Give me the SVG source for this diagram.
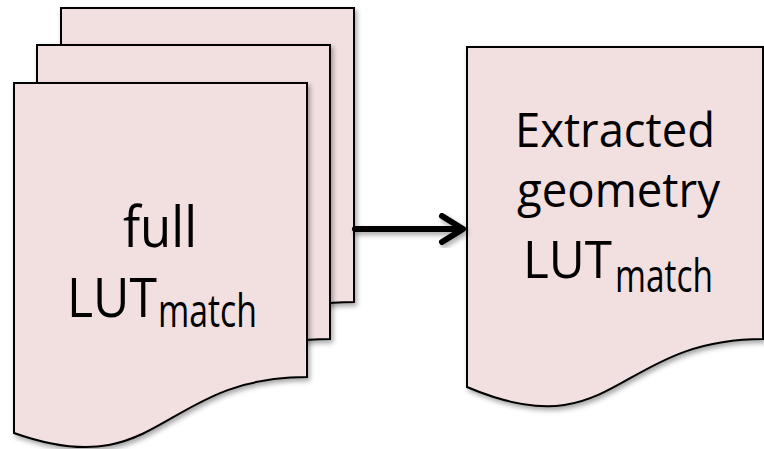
<svg xmlns="http://www.w3.org/2000/svg" xmlns:xlink="http://www.w3.org/1999/xlink" width="764" height="449" viewBox="0 0 764 449">
  <style>
    .doc { fill: #F2DFDF; stroke: #000; stroke-width: 2; stroke-linejoin: miter; filter: url(#shadow); }
    .lbl { font-family: "Open Sans", Lato, "Liberation Sans", sans-serif; fill: #000; }
    .conn { fill: none; stroke: #000; stroke-width: 6; stroke-linecap: round; stroke-linejoin: round; filter: url(#shadow); }
  </style>
  <defs>
    <filter id="shadow" x="-10%" y="-10%" width="130%" height="130%">
      <feDropShadow dx="2" dy="3" stdDeviation="2.5" flood-color="#000" flood-opacity="0.35"/>
    </filter>
    <!-- flowchart "document" shape with a wavy bottom edge -->
    <path id="docShape" d="M0,0 H293 V294 C146.5,294 146.5,402 0,350 Z"/>
  </defs>

  <!-- stack of full LUT pages -->
  <g id="page-back">
    <use xlink:href="#docShape" class="doc" transform="translate(61,8)"/>
  </g>
  <g id="page-middle">
    <use xlink:href="#docShape" class="doc" transform="translate(37,45)"/>
  </g>
  <g id="full-lut">
    <use xlink:href="#docShape" class="doc" transform="translate(14,83)"/>
    <text class="lbl" x="123" y="247" font-size="56" textLength="74" lengthAdjust="spacingAndGlyphs">full</text>
    <text class="lbl" x="67" y="317" font-size="54" textLength="90" lengthAdjust="spacingAndGlyphs">LUT</text>
    <text class="lbl" x="158" y="327" font-size="46" textLength="99" lengthAdjust="spacingAndGlyphs">match</text>
  </g>

  <!-- extracted geometry page -->
  <g id="extracted-lut">
    <path class="doc" d="M467,47 H763 V339 C615,339 615,450 467,387 Z"/>
    <text class="lbl" x="515" y="147" font-size="48" textLength="200" lengthAdjust="spacingAndGlyphs">Extracted</text>
    <text class="lbl" x="517" y="207" font-size="48" textLength="203" lengthAdjust="spacingAndGlyphs">geometry</text>
    <text class="lbl" x="523" y="278" font-size="51" textLength="89" lengthAdjust="spacingAndGlyphs">LUT</text>
    <text class="lbl" x="615" y="292" font-size="46" textLength="98" lengthAdjust="spacingAndGlyphs">match</text>
  </g>

  <g id="connectors">
    <path class="conn" d="M355,229 H462 M442,216 L463,229 L442,242"/>
  </g>
</svg>
